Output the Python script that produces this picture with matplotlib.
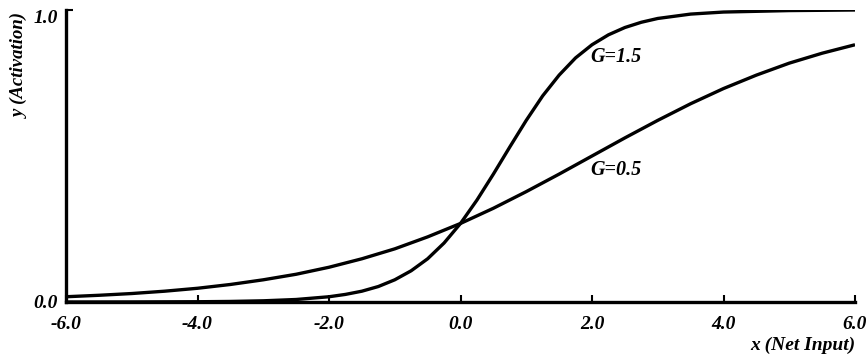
import numpy as np
import matplotlib
matplotlib.use("Agg")
import matplotlib.pyplot as plt

# values
x_g05 = [-6.0, -5.5, -5.0, -4.5, -4.0, -3.5, -3.0, -2.5, -2.0, -1.5, -1.0, -0.5,
         0.0, 0.5, 1.0, 1.5, 2.0, 2.5, 3.0, 3.5, 4.0, 4.5, 5.0, 5.5, 6.0]
y_g05 = [0.018, 0.023, 0.029, 0.037, 0.047, 0.060, 0.076, 0.095, 0.119, 0.148, 0.182, 0.223,
         0.269, 0.321, 0.378, 0.438, 0.500, 0.562, 0.622, 0.679, 0.731, 0.777, 0.818, 0.852, 0.881]

x_g15 = [-6.0, -5.0, -4.0, -3.5, -3.0, -2.5, -2.0, -1.75, -1.5, -1.25, -1.0, -0.75, -0.5, -0.25,
         0.0, 0.25, 0.5, 0.75, 1.0, 1.25, 1.5, 1.75, 2.0, 2.25, 2.5, 2.75, 3.0, 3.5, 4.0, 5.0, 6.0]
y_g15 = [0.0, 0.0002, 0.0009, 0.0019, 0.0041, 0.0086, 0.018, 0.026, 0.037, 0.053, 0.076, 0.107, 0.148, 0.202,
         0.269, 0.349, 0.438, 0.531, 0.622, 0.706, 0.777, 0.836, 0.881, 0.915, 0.940, 0.958, 0.971, 0.986, 0.993, 0.998, 1.0]

xticks = [-6.0, -4.0, -2.0, 0.0, 2.0, 4.0, 6.0]
xtick_labels = ["-6.0", "-4.0", "-2.0", "0.0", "2.0", "4.0", "6.0"]
yticks = [0.0, 1.0]
ytick_labels = ["0.0", "1.0"]

font = dict(family="Liberation Serif", weight="bold", style="italic")

fig = plt.figure(figsize=(8.66, 3.58), dpi=100)
ax = fig.add_axes([66 / 866, 56 / 358, 789 / 866, 292 / 358])

ax.plot(x_g05, y_g05, color="black", lw=2.4, solid_capstyle="butt")
ax.plot(x_g15, y_g15, color="black", lw=2.4, solid_capstyle="butt")

ax.set_xlim(-6, 6)
ax.set_ylim(0, 1)
for s in ["top", "right"]:
    ax.spines[s].set_visible(False)
for s in ["left", "bottom"]:
    ax.spines[s].set_linewidth(2.4)

ax.set_xticks(xticks)
ax.set_xticklabels(xtick_labels, fontdict=dict(size=14, **font))
ax.set_yticks(yticks)
ax.set_yticklabels(ytick_labels, fontdict=dict(size=14, **font))
ax.tick_params(axis="x", direction="in", length=5, width=1.5, pad=10)
ax.tick_params(axis="y", direction="in", length=5, width=1.5, pad=6)
ylabs = ax.get_yticklabels()
ylabs[1].set_verticalalignment("top")

ax.text(2.36, 0.84, "G=1.5", ha="center", va="center", fontsize=14.5, **font)
ax.text(2.36, 0.452, "G=0.5", ha="center", va="center", fontsize=14.5, **font)

fig.text(855 / 866, 1 - 345 / 358, "x (Net Input)", ha="right", va="center", fontsize=14, **font)
fig.text(20 / 866, 1 - 65 / 358, "y (Activation)", ha="center", va="center", rotation=90,
         fontsize=13.5, **font)

fig.savefig("out.png", dpi=100)
